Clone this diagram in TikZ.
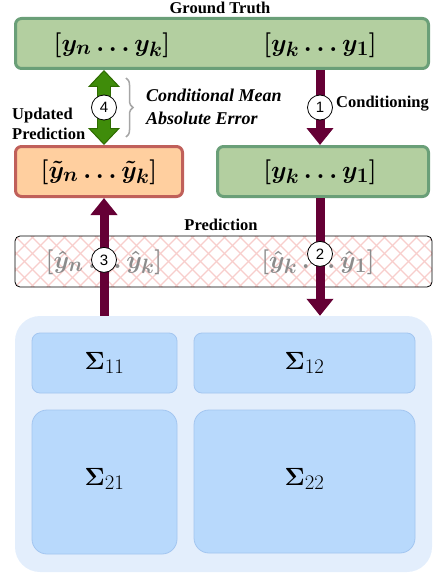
\documentclass[tikz,border=0pt]{standalone}
\usepackage[no-math]{fontspec}
\setmainfont{Liberation Serif}
\newfontfamily\numfont{Liberation Sans}
\usepackage{amsmath}
\usetikzlibrary{arrows.meta,decorations.pathreplacing}

\definecolor{gtfill}{HTML}{B3CFA0}
\definecolor{gtdraw}{HTML}{6A9F78}
\definecolor{orfill}{HTML}{FFCF9F}
\definecolor{ordraw}{HTML}{C0605A}
\definecolor{maroon}{HTML}{650035}
\definecolor{agreen}{HTML}{3F8C0A}
\definecolor{adark}{HTML}{2E6B00}
\definecolor{hatch}{HTML}{F8CECC}
\definecolor{covfill}{HTML}{E3EEFC}
\definecolor{blkfill}{HTML}{B8D9FC}
\definecolor{blkdraw}{HTML}{A3C6F0}

\begin{document}
\begin{tikzpicture}[x=1pt,y=-1pt,
    vecbox/.style={rounded corners=6pt, line width=3pt, minimum height=50pt},
    gtbox/.style={vecbox, draw=gtdraw, fill=gtfill},
    updbox/.style={vecbox, draw=ordraw, fill=orfill},
    vec/.style={font=\fontsize{29}{34}\selectfont\boldmath},
    sig/.style={font=\fontsize{30}{34}\selectfont},
    lbl/.style={font=\fontsize{16.5}{20}\selectfont\bfseries, inner sep=0pt},
    blk/.style={draw=blkdraw, fill=blkfill, line width=.8pt},
    num/.style={circle, draw=black, fill=white, text=black, line width=.8pt, minimum size=25pt, inner sep=0pt, font=\numfont\fontsize{15}{15}\selectfont},
    hatchline/.style={draw=hatch, line width=1.1pt},
    cond/.style={maroon, line width=9pt, -{Triangle[width=26pt,length=17pt]}}]
    \useasboundingbox (0,0) rectangle (435,575);

    % ground truth
    \node[lbl] at (220,8) {Ground Truth};
    \node[gtbox, minimum width=413pt] (gt) at (222,43.5) {};
    \node[vec] (gtl) at (112,45) {$[y_n\dots y_k]$};
    \node[vec] (gtr) at (320,45) {$[y_k\dots y_1]$};

    % conditioned / updated vectors
    \node[updbox, minimum width=167pt] (upd) at (99,171.5) {};
    \node[vec] (updl) at (99,172) {$[\tilde{y}_n\dots\tilde{y}_k]$};
    \node[gtbox, minimum width=211pt] (gt2) at (323,171.5) {};
    \node[vec] at (320,172) {$[y_k\dots y_1]$};

    % prediction
    \node[lbl] at (221,225) {Prediction};
    \node[draw, fill=white, rounded corners=5pt, line width=.8pt, minimum width=417pt, minimum height=51pt,
        path picture={
            \foreach \i in {-48,-32,...,480} {
                \draw[hatchline] ([xshift=\i pt]path picture bounding box.north west) -- ++(60,60);
                \draw[hatchline] ([xshift=\i pt]path picture bounding box.south west) -- ++(60,-60);
            }
        }] (pred) at (223.5,261.5) {};
    \node[vec, text=gray!90] (predl) at (104,262) {$[\hat{y}_n\dots\hat{y}_k]$};
    \node[vec, text=gray!90] (predr) at (318,262) {$[\hat{y}_k\dots\hat{y}_1]$};

    % covariance blocks
    \node[fill=covfill, rounded corners=25pt, minimum width=417pt, minimum height=256pt] (cov) at (223.5,444) {};
    \node[blk, rounded corners=8pt, minimum width=145pt, minimum height=60pt, sig] (s11) at (104.5,363) {$\boldsymbol{\Sigma}_{11}$};
    \node[blk, rounded corners=8pt, minimum width=221pt, minimum height=60pt, sig] (s12) at (304.5,363) {$\boldsymbol{\Sigma}_{12}$};
    \node[blk, rounded corners=15pt, minimum width=145pt, minimum height=144pt, sig] (s21) at (104.5,482) {};
    \node[sig] at (s21.center |- 0,479) {$\boldsymbol{\Sigma}_{21}$};
    \node[blk, rounded corners=15pt, minimum width=221pt, minimum height=143pt, sig] (s22) at (304.5,481.5) {};
    \node[sig] at (s22.center |- 0,479) {$\boldsymbol{\Sigma}_{22}$};

    % arrows
    \draw[cond] (gtr |- gt.south) -- node[num] {1} (gtr |- gt2.north);
    \draw[cond] (gtr |- gt2.south) -- node[num, yshift=3pt] {2} (gtr |- cov.north);
    \draw[cond] (predl |- cov.north) -- node[num, yshift=-3pt] {3} (predl |- upd.south);
    \draw[adark, line width=14pt,
        {Triangle[width=32pt,length=17pt,fill=agreen,line width=1pt]}-{Triangle[width=32pt,length=17pt,fill=agreen,line width=1pt]}]
        (predl |- upd.north) -- (predl |- gt.south);
    \draw[agreen, line width=12pt, shorten <=15pt, shorten >=15pt] (predl |- upd.north) -- node[num] {4} (predl |- gt.south);

    % labels
    \node[lbl, anchor=west] at (336,104) {Conditioning};
    \node[lbl, anchor=west, align=left] at (12,124) {Updated\\Prediction};
    \draw[gray!70, line width=1.5pt, decorate, decoration={brace, amplitude=7pt}] (126,78) -- (126,137);
    \node[lbl, anchor=west, align=left, font=\fontsize{18}{23}\selectfont\bfseries\itshape] at (146,107) {Conditional Mean\\Absolute Error};
\end{tikzpicture}
\end{document}
